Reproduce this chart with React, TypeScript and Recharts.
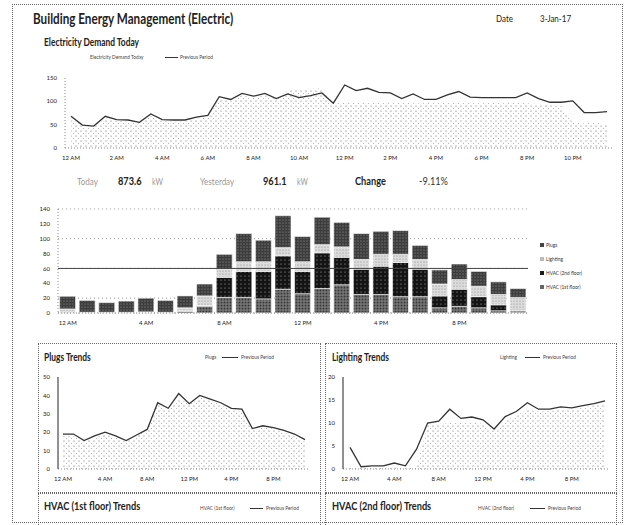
import React from 'react';
import { ComposedChart, Area, Line, BarChart, Bar, XAxis, YAxis, CartesianGrid, ReferenceLine } from 'recharts';

const hourLabels = ['12 AM', '1 AM', '2 AM', '3 AM', '4 AM', '5 AM', '6 AM', '7 AM', '8 AM', '9 AM', '10 AM', '11 AM',
  '12 PM', '1 PM', '2 PM', '3 PM', '4 PM', '5 PM', '6 PM', '7 PM', '8 PM', '9 PM', '10 PM', '11 PM'];
const halfHourLabels = hourLabels.flatMap((h) => [h, h.replace(' ', ':30 ')]);

// electricity demand, half-hourly
const demandToday = [
  64, 46, 44, 64, 58, 57, 52, 69, 58, 57, 57, 62,
  66, 106, 101, 113, 108, 114, 104, 124, 126, 127, 128, 96,
  98, 97, 98, 97, 96, 97, 96, 96, 97, 98, 97, 96,
  96, 97, 96, 97, 96, 94, 92, 90, 54, 53, 55, 50,
];
const demandPrevious = [
  68, 49, 47, 68, 61, 60, 55, 73, 61, 60, 60, 66,
  70, 110, 104, 117, 111, 117, 106, 116, 108, 112, 118, 96,
  135, 123, 128, 119, 118, 106, 116, 104, 104, 114, 121, 109,
  108, 108, 108, 108, 118, 106, 98, 98, 101, 76, 76, 78,
];

// hourly breakdown (stacked bars)
const barHvac1 = [1, 0.5, 0.5, 0.5, 0.5, 0.5, 2, 9, 21, 21, 19, 32, 26, 33, 38, 25, 25, 22, 22, 7, 9, 7, 3, 1.5];
const barHvac2 = [0, 0, 0, 0, 0, 0, 1, 1, 27, 35, 37, 45, 30, 48, 37, 34, 38, 46, 37, 16, 23, 15, 8, 1.5];
const barLighting = [4.5, 0.5, 0.5, 0.5, 1, 0.5, 4, 13, 11, 13, 13, 11, 13, 11, 14, 13, 16, 11, 13, 16, 13, 14, 14, 18];
const barPlugs = [17, 16, 13, 15, 18.5, 16, 16, 16, 20, 38, 29, 43, 34, 37, 33, 35, 31, 32, 19, 19, 21, 20, 17, 12];

// trends, hourly
const plugsToday = [18, 18, 15, 17, 19, 17, 15, 18, 21, 35, 32, 39, 35, 39, 37, 35, 32, 31, 21, 23, 22, 20, 18, 15];
const plugsPrevious = [19, 19, 15.5, 18, 20, 18, 15.5, 18.5, 21.5, 36, 33, 41, 35.5, 40, 38, 36, 33, 32.5, 22, 23.5, 22.5, 21, 19, 16];
const lightingToday = [0.3, 0.2, 0.2, 0.2, 0.3, 0.3, 0.5, 9.5, 9.8, 10, 10, 10.2, 9.8, 8.3, 10.5, 11.5, 13, 12.5, 12.6, 13, 13, 13.3, 13.8, 14.3];
const lightingPrevious = [4.7, 0.5, 0.7, 0.7, 1.3, 0.7, 4.3, 10, 10.4, 13, 11, 11.3, 10.7, 8.7, 11.4, 12.5, 14.4, 13, 13, 13.5, 13.3, 13.8, 14.2, 14.8];

const demandData = halfHourLabels.map((slot, i) => ({ slot, today: demandToday[i], previous: demandPrevious[i] }));
const barData = hourLabels.map((hour, i) => ({
  hour, hvac1: barHvac1[i], hvac2: barHvac2[i], lighting: barLighting[i], plugs: barPlugs[i],
}));
const plugsData = hourLabels.map((hour, i) => ({ hour, today: plugsToday[i], previous: plugsPrevious[i] }));
const lightingData = hourLabels.map((hour, i) => ({ hour, today: lightingToday[i], previous: lightingPrevious[i] }));

const font = 'Lato, "Open Sans", sans-serif';
const tickStyle = { fontSize: 6, fill: '#222', fontFamily: font };

const T = ({ x, y, size, bold, color, sx, children }: any) => (
  <div
    style={{
      position: 'absolute', left: x, top: y - size / 2, fontSize: size, lineHeight: 1, fontWeight: bold ? 700 : 400,
      color: color || '#222', whiteSpace: 'nowrap', transform: `scaleX(${sx || 0.8})`, transformOrigin: 'left center',
    }}
  >
    {children}
  </div>
);

const Dash = ({ x, y, w }: any) => (
  <div style={{ position: 'absolute', left: x, top: y, width: w, borderTop: '1px solid #333' }} />
);

const Box = ({ x, y, w, h }: any) => (
  <div style={{ position: 'absolute', left: x, top: y, width: w, height: h, border: '1px dotted #666' }} />
);

const AreaDots = ({ id }: any) => (
  <pattern id={id} width="5" height="5" patternUnits="userSpaceOnUse">
    <rect width="5" height="5" fill="#fff" />
    <circle cx="1" cy="1" r="0.6" fill="#666" />
    <circle cx="3.5" cy="3.5" r="0.5" fill="#999" />
  </pattern>
);

const legendItems = [
  { name: 'Plugs', color: '#444' },
  { name: 'Lighting', color: '#bbb' },
  { name: 'HVAC (2nd floor)', color: '#1c1c1c' },
  { name: 'HVAC (1st floor)', color: '#666' },
];

const TrendChart = ({ data, max, ticks, x, width, padL, padR, marginLeft, id }: any) => (
  <div style={{ position: 'absolute', left: x, top: 360 }}>
    <ComposedChart width={width} height={130} data={data} margin={{ top: 17, right: 8, bottom: 7, left: marginLeft }}>
      <defs>
        <AreaDots id={id} />
      </defs>
      <XAxis dataKey="hour" interval={3} tick={tickStyle} tickLine={false} height={14}
        axisLine={{ stroke: '#888', strokeDasharray: '1 2' }} padding={{ left: padL, right: padR }} />
      <YAxis domain={[0, max]} ticks={ticks} tick={tickStyle} tickLine={false} width={16}
        axisLine={{ stroke: '#222' }} />
      <Area dataKey="today" type="linear" fill={`url(#${id})`} fillOpacity={1} stroke="none" isAnimationActive={false} />
      <Line dataKey="previous" type="linear" stroke="#333" strokeWidth={1.3} dot={false} isAnimationActive={false} />
    </ComposedChart>
  </div>
);

export default function App() {
  return (
    <div style={{ position: 'absolute', left: 0, top: 0, width: 627, height: 525, overflow: 'hidden', background: '#fff', fontFamily: font }}>
      <Box x={12} y={4} w={609} h={517} />

      <T x={33} y={18} size={16} bold sx={0.73}>Building Energy Management (Electric)</T>
      <T x={496} y={18} size={10}>Date</T>
      <T x={540} y={18} size={10}>3-Jan-17</T>

      <T x={44} y={42} size={10.5} bold>Electricity Demand Today</T>
      <T x={90} y={57} size={6} color="#444">Electricity Demand Today</T>
      <Dash x={165} y={57} w={13} />
      <T x={180} y={57} size={6} color="#444">Previous Period</T>

      <div style={{ position: 'absolute', left: 0, top: 60 }}>
        <ComposedChart width={627} height={110} data={demandData} margin={{ top: 18, right: 14, bottom: 6, left: 35 }}>
          <defs>
            <AreaDots id="demandDots" />
          </defs>
          <XAxis dataKey="slot" interval={3} tick={tickStyle} tickLine={false} height={16}
            axisLine={{ stroke: '#888', strokeDasharray: '1 2' }} padding={{ left: 6, right: 6 }} />
          <YAxis domain={[0, 150]} ticks={[0, 50, 100, 150]} tick={tickStyle} tickLine={false} width={30}
            axisLine={{ stroke: '#888', strokeDasharray: '1 2' }} />
          <Area dataKey="today" type="linear" fill="url(#demandDots)" fillOpacity={1} stroke="none" isAnimationActive={false} />
          <Line dataKey="previous" type="linear" stroke="#333" strokeWidth={1.3} dot={false} isAnimationActive={false} />
        </ComposedChart>
      </div>

      <T x={77} y={181} size={10} color="#999">Today</T>
      <T x={118} y={181} size={11.5} bold>873.6</T>
      <T x={152} y={181} size={9} color="#999">kW</T>
      <T x={200} y={181} size={10} color="#999">Yesterday</T>
      <T x={263} y={181} size={11.5} bold>961.1</T>
      <T x={297} y={181} size={9} color="#999">kW</T>
      <T x={355} y={181} size={11.5} bold>Change</T>
      <T x={419} y={181} size={11.5} color="#333">-9.11%</T>

      <div style={{ position: 'absolute', left: 0, top: 195 }}>
        <BarChart width={627} height={135} data={barData} margin={{ top: 14, right: 99, bottom: 3, left: 33 }} barCategoryGap="8%">
          <defs>
            <pattern id="pPlugs" width="3" height="3" patternUnits="userSpaceOnUse">
              <rect width="3" height="3" fill="#3d3d3d" />
              <circle cx="1" cy="1" r="0.6" fill="#9a9a9a" />
            </pattern>
            <pattern id="pLighting" width="3" height="3" patternUnits="userSpaceOnUse">
              <rect width="3" height="3" fill="#dcdcdc" />
              <circle cx="1" cy="1" r="0.6" fill="#888" />
            </pattern>
            <pattern id="pHvac2" width="4" height="4" patternUnits="userSpaceOnUse">
              <rect width="4" height="4" fill="#141414" />
              <circle cx="1" cy="1" r="0.5" fill="#ccc" />
            </pattern>
            <pattern id="pHvac1" width="3" height="3" patternUnits="userSpaceOnUse">
              <rect width="3" height="3" fill="#5e5e5e" />
              <circle cx="1" cy="1" r="0.6" fill="#b5b5b5" />
              <circle cx="2.5" cy="2.5" r="0.5" fill="#2a2a2a" />
            </pattern>
          </defs>
          <CartesianGrid vertical={false} stroke="#999" strokeDasharray="1 3" />
          <XAxis dataKey="hour" interval={3} tick={tickStyle} tickLine={false} height={14}
            axisLine={{ stroke: '#888', strokeDasharray: '1 2' }} />
          <YAxis domain={[0, 140]} ticks={[0, 20, 40, 60, 80, 100, 120, 140]} tick={tickStyle} tickLine={false} width={25}
            axisLine={{ stroke: '#888', strokeDasharray: '1 2' }} />
          <ReferenceLine y={60} stroke="#444" />
          <Bar dataKey="hvac1" stackId="a" fill="url(#pHvac1)" stroke="#fff" strokeWidth={0.6} isAnimationActive={false} />
          <Bar dataKey="hvac2" stackId="a" fill="url(#pHvac2)" stroke="#fff" strokeWidth={0.6} isAnimationActive={false} />
          <Bar dataKey="lighting" stackId="a" fill="url(#pLighting)" stroke="#fff" strokeWidth={0.6} isAnimationActive={false} />
          <Bar dataKey="plugs" stackId="a" fill="url(#pPlugs)" stroke="#fff" strokeWidth={0.6} isAnimationActive={false} />
        </BarChart>
      </div>

      {legendItems.map((item, i) => (
        <div key={item.name}>
          <div style={{ position: 'absolute', left: 540, top: 243 + i * 14, width: 4, height: 4, background: item.color }} />
          <T x={546} y={245 + i * 14} size={6} color="#333">{item.name}</T>
        </div>
      ))}

      <Box x={38} y={343} w={281} h={148} />
      <Box x={325} y={343} w={290} h={148} />
      <Box x={38} y={493} w={281} h={40} />
      <Box x={325} y={493} w={290} h={40} />

      <T x={44} y={357} size={10.5} bold>Plugs Trends</T>
      <T x={205} y={357} size={6} color="#444">Plugs</T>
      <Dash x={222} y={357} w={16} />
      <T x={241} y={357} size={6} color="#444">Previous Period</T>
      <TrendChart data={plugsData} max={50} ticks={[0, 10, 20, 30, 40, 50]} x={38} width={280} padL={5} padR={5} marginLeft={4} id="plugsDots" />

      <T x={332} y={357} size={10.5} bold>Lighting Trends</T>
      <T x={500} y={357} size={6} color="#444">Lighting</T>
      <Dash x={525} y={357} w={15} />
      <T x={543} y={357} size={6} color="#444">Previous Period</T>
      <TrendChart data={lightingData} max={20} ticks={[0, 5, 10, 15, 20]} x={322} width={296} padL={7} padR={5} marginLeft={5} id="lightDots" />

      <T x={44} y={506} size={11.5} bold>HVAC (1st floor) Trends</T>
      <T x={200} y={508} size={6} color="#444">HVAC (1st floor)</T>
      <Dash x={250} y={508} w={13} />
      <T x={266} y={508} size={6} color="#444">Previous Period</T>
      <T x={332} y={506} size={11.5} bold>HVAC (2nd floor) Trends</T>
      <T x={478} y={508} size={6} color="#444">HVAC (2nd floor)</T>
      <Dash x={530} y={508} w={15} />
      <T x={548} y={508} size={6} color="#444">Previous Period</T>
    </div>
  );
}
